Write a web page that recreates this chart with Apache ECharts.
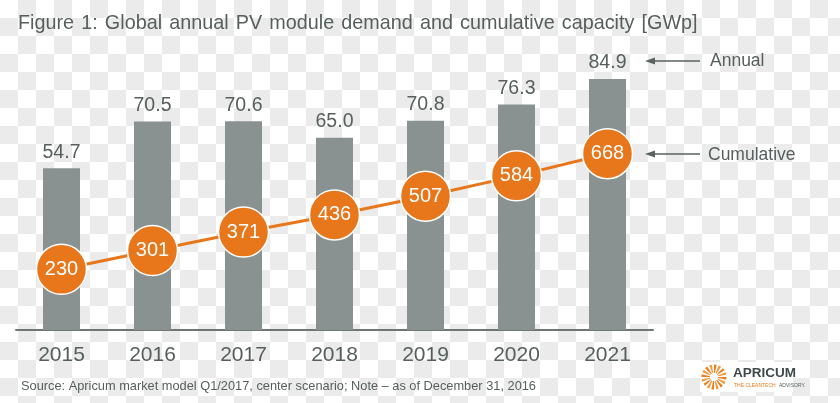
<!DOCTYPE html>
<html>
<head>
<meta charset="utf-8">
<script src="https://cdn.jsdelivr.net/npm/echarts@6/dist/echarts.min.js"></script>
<style>
html,body{margin:0;padding:0;}
body{width:840px;height:403px;background:repeating-conic-gradient(#ebebeb 0 25%, #ffffff 0 50%) 0 0/36px 36px;}
#chart{width:840px;height:403px;}
</style>
</head>
<body>
<div id="chart"></div>
<script>
const years = ['2015','2016','2017','2018','2019','2020','2021'];
const annual = [54.7, 70.5, 70.6, 65.0, 70.8, 76.3, 84.9];
const cumulative = [230, 301, 371, 436, 507, 584, 668];

const gray = '#8a9191';
const textGray = '#565e5e';
const orange = '#e8761b';

const chart = echarts.init(document.getElementById('chart'), null, {renderer:'canvas'});

const logoRays = [];
const nRays = 16;
for (let i = 0; i < nRays; i++) {
  const a0 = (i / nRays) * Math.PI * 2;
  logoRays.push({
    type: 'sector',
    shape: {cx: 714, cy: 377, r0: 4, r: 12.5, startAngle: a0, endAngle: a0 + Math.PI * 2 / nRays * 0.55},
    style: {fill: i % 2 ? '#f39a3c' : '#ee7d1c'}
  });
}

const titleText = 'Figure 1: Global annual PV module demand and cumulative capacity [GWp]'.split(' ').join(' \u200A');

chart.setOption({
  animation: false,
  title: {
    text: titleText,
    left: 13, top: 9,
    textStyle: {fontFamily: 'Liberation Sans', fontSize: 19.8, fontWeight: 'normal', color: textGray}
  },
  grid: {left: 16, right: 187, top: 34.4, bottom: 73},
  xAxis: {
    type: 'category',
    data: years,
    axisLine: {lineStyle: {color: '#6f7676', width: 2}},
    axisTick: {show: false},
    axisLabel: {fontFamily: 'Liberation Sans', fontSize: 21, color: textGray, margin: 15}
  },
  yAxis: [
    {type: 'value', min: 0, max: 100, show: false, splitLine: {show: false}},
    {type: 'value', min: 0, max: 1120, show: false, splitLine: {show: false}}
  ],
  series: [
    {
      type: 'bar',
      data: annual,
      barWidth: 37,
      itemStyle: {color: gray},
      label: {
        show: true, position: 'top', distance: 6,
        formatter: p => p.value.toFixed(1),
        fontFamily: 'Liberation Sans', fontSize: 19.5, color: textGray
      }
    },
    {
      type: 'line',
      yAxisIndex: 1,
      data: cumulative,
      symbol: 'circle',
      symbolSize: 50,
      lineStyle: {color: orange, width: 3},
      itemStyle: {color: orange, borderColor: '#ffffff', borderWidth: 1.5},
      label: {
        show: true, position: 'inside',
        fontFamily: 'Liberation Sans', fontSize: 20, color: '#ffffff'
      },
      z: 5
    }
  ],
  graphic: [
    {type: 'line', shape: {x1: 700, y1: 61, x2: 650, y2: 61}, style: {stroke: '#5a6262', lineWidth: 1.5}},
    {type: 'polygon', shape: {points: [[645, 61], [655, 57.5], [655, 64.5]]}, style: {fill: '#5a6262'}},
    {type: 'text', x: 710, y: 61, style: {text: 'Annual', fontFamily: 'Liberation Sans', fontSize: 17.5, fill: textGray, verticalAlign: 'middle'}},
    {type: 'line', shape: {x1: 700, y1: 154, x2: 650, y2: 154}, style: {stroke: '#5a6262', lineWidth: 1.5}},
    {type: 'polygon', shape: {points: [[645, 154], [655, 150.5], [655, 157.5]]}, style: {fill: '#5a6262'}},
    {type: 'text', x: 708, y: 155, style: {text: 'Cumulative', fontFamily: 'Liberation Sans', fontSize: 17.5, fill: textGray, verticalAlign: 'middle'}},
    {type: 'text', x: 21, y: 386, style: {text: 'Source: Apricum market model Q1/2017, center scenario; Note \u2013 as of December 31, 2016', fontFamily: 'Liberation Sans', fontSize: 12.8, fill: textGray, verticalAlign: 'middle'}},
    {type: 'rect', shape: {x: 700, y: 362, width: 93, height: 30}, style: {fill: '#ffffff'}},
    {type: 'group', children: logoRays},
    {type: 'text', x: 733, y: 373, style: {text: 'APRICUM', fontFamily: 'Liberation Sans', fontSize: 13.5, fontWeight: 'bold', fill: '#404a4a', verticalAlign: 'middle'}},
    {type: 'text', x: 734, y: 386, style: {
      text: '{o|THE CLEANTECH} {g|ADVISORY.}', verticalAlign: 'middle',
      rich: {o: {fontFamily: 'Liberation Sans', fontSize: 5, fill: '#ee7d1c'}, g: {fontFamily: 'Liberation Sans', fontSize: 5, fill: '#556060'}}
    }}
  ]
});
</script>
</body>
</html>
